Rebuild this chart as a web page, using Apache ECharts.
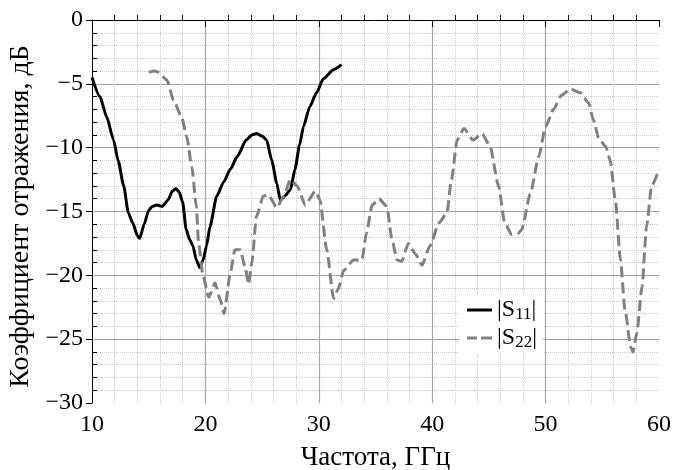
<!DOCTYPE html>
<html>
<head>
<meta charset="utf-8">
<script src="https://cdn.jsdelivr.net/npm/echarts@6/dist/echarts.min.js"></script>
<style>
  html, body { margin: 0; padding: 0; background: #fff; }
  #chart { width: 687px; height: 470px; }
</style>
</head>
<body>
<div id="chart"></div>
<script>
// |S11|, ГГц / дБ
const s11Freq = [10.0, 10.7, 11.3, 11.9, 12.3, 12.8, 13.2, 13.6, 14.0, 14.2, 14.6, 15.0, 15.3, 15.7, 16.2, 16.7, 17.1, 17.4, 17.7, 18.0, 18.3, 18.6, 18.9, 19.2, 19.5, 19.8, 20.1, 20.4, 21.0, 21.6, 22.2, 22.8, 23.6, 24.1, 24.5, 25.0, 25.4, 25.85, 26.3, 26.6, 27.0, 27.5, 27.9, 28.3, 28.65, 29.2, 29.8, 30.4, 31.3, 32.0]
const s11Db = [-4.5, -6.0, -7.6, -9.4, -11.0, -13.0, -15.1, -15.9, -16.9, -17.1, -16.0, -14.9, -14.6, -14.5, -14.6, -14.1, -13.4, -13.2, -13.5, -14.3, -16.4, -17.2, -17.7, -18.8, -19.4, -18.8, -17.7, -16.2, -13.8, -12.7, -11.7, -10.7, -9.4, -9.0, -8.9, -9.1, -9.4, -11.0, -12.8, -14.1, -13.8, -13.3, -11.7, -9.8, -8.35, -6.8, -5.7, -4.6, -3.9, -3.5]

// |S22|
const s22Freq = [15.0, 15.5, 15.9, 16.6, 17.2, 17.9, 18.35, 18.8, 19.2, 19.4, 19.8, 20.3, 20.85, 21.3, 21.65, 22.2, 22.6, 23.06, 23.5, 23.8, 24.1, 24.5, 25.1, 25.56, 26.3, 26.9, 27.5, 28.1, 28.8, 29.7, 30.1, 30.7, 31.3, 31.7, 32.2, 33.06, 33.8, 34.2, 34.7, 35.3, 36.0, 36.45, 36.9, 37.3, 37.9, 38.5, 39.1, 39.8, 40.6, 41.3, 41.7, 42.2, 42.8, 43.6, 44.4, 45.1, 45.85, 46.4, 47.0, 47.6, 47.9, 48.65, 49.4, 50.0, 50.7, 51.4, 52.2, 53.06, 53.8, 54.2, 54.7, 55.3, 55.7, 56.15, 56.6, 57.0, 57.5, 57.7, 58.05, 58.5, 58.9, 59.35, 60.0]
const s22Db = [-4.1, -4.0, -4.1, -4.7, -6.3, -7.6, -9.1, -11.5, -14.6, -17.5, -20.1, -21.7, -20.6, -21.9, -23.0, -19.8, -18.0, -18.0, -19.3, -20.7, -19.0, -15.4, -13.8, -13.7, -14.7, -13.8, -12.5, -13.0, -14.5, -13.4, -14.1, -18.0, -21.8, -21.1, -19.6, -18.8, -18.8, -16.7, -14.5, -14.0, -14.6, -17.2, -18.8, -18.9, -17.5, -18.3, -19.2, -17.7, -15.9, -15.1, -12.5, -9.4, -8.5, -9.4, -8.9, -9.9, -13.0, -15.9, -16.8, -16.7, -16.4, -13.6, -10.7, -8.35, -7.0, -5.9, -5.4, -5.7, -6.5, -7.8, -9.3, -9.9, -11.0, -14.1, -18.8, -22.7, -25.6, -26.0, -24.5, -20.9, -16.2, -13.0, -11.7]

const xMin = 10
const xMax = 60
const xStep = 10
const yMin = -30
const yMax = 0
const yStep = 5

const serif = '"Liberation Serif", "Times New Roman", serif'

function zip (xs, ys) {
  return xs.map((x, i) => [x, ys[i]])
}

// длинный минус как в оригинале
function minusFmt (v) {
  return v < 0 ? '\u2212' + (-v) : String(v)
}

const chart = echarts.init(document.getElementById('chart'))

const baseX = {
  type: 'value',
  min: xMin,
  max: xMax,
  interval: xStep,
  position: 'bottom'
}
const baseY = {
  type: 'value',
  min: yMin,
  max: yMax,
  interval: yStep,
  position: 'left'
}

const option = {
  animation: false,
  backgroundColor: '#fff',
  textStyle: { fontFamily: serif, color: '#000' },
  grid: { left: 92, right: 28, top: 20, bottom: 67, containLabel: false, outerBoundsMode: 'none' },
  legend: {
    orient: 'vertical',
    left: 459,
    top: 295,
    backgroundColor: '#fff',
    padding: [2, 6, 2, 8],
    itemWidth: 25,
    itemHeight: 3,
    itemGap: 2,
    selectedMode: false,
    data: [
      { name: 'S11', icon: 'path://M0,0H25V3H0Z', itemStyle: { color: '#000' } },
      { name: 'S22', icon: 'path://M0,0H10V3H0Z M14,0H25V3H14Z', itemStyle: { color: '#808080' } }
    ],
    formatter (name) {
      return '{n||S}{s|' + name.slice(1) + '}{n||}'
    },
    textStyle: {
      fontFamily: serif,
      color: '#000',
      rich: {
        n: { fontSize: 24, fontFamily: serif, lineHeight: 28 },
        s: { fontSize: 17, fontFamily: serif, lineHeight: 28, padding: [9, 0, 0, 0] }
      }
    }
  },
  xAxis: [
    Object.assign({}, baseX, {
      name: 'Частота, ГГц',
      nameLocation: 'middle',
      nameGap: 41,
      nameTextStyle: { fontSize: 27, fontFamily: serif, color: '#000' },
      axisLine: { show: true, lineStyle: { color: '#000', width: 1 } },
      axisTick: { show: true, inside: false, length: 7, lineStyle: { color: '#000' } },
      axisLabel: { fontSize: 24, fontFamily: serif, color: '#000', margin: 10 },
      splitLine: { show: true, showMinLine: false, showMaxLine: false, lineStyle: { color: '#a6a6a6', width: 1.2 } },
      minorTick: { show: false },
      minorSplitLine: { show: true, lineStyle: { color: '#c8c8c8', type: 'dotted', width: 1 } }
    }),
    // малые деления внутрь
    Object.assign({}, baseX, {
      axisLine: { show: false },
      axisLabel: { show: false },
      axisTick: { show: false, inside: true },
      splitLine: { show: false },
      minorTick: { show: true, splitNumber: 5, length: 5, lineStyle: { color: '#000' } }
    })
  ],
  yAxis: [
    Object.assign({}, baseY, {
      name: 'Коэффициент отражения, дБ',
      nameLocation: 'middle',
      nameGap: 52,
      nameTextStyle: { fontSize: 28, fontFamily: serif, color: '#000', padding: [0, 10, 0, 0] },
      axisLine: { show: true, lineStyle: { color: '#000', width: 1 } },
      axisTick: { show: true, inside: false, length: 6, lineStyle: { color: '#000' } },
      axisLabel: { fontSize: 24, fontFamily: serif, color: '#000', margin: 9, formatter: minusFmt },
      splitLine: { show: true, showMinLine: false, showMaxLine: false, lineStyle: { color: '#a6a6a6', width: 1.2 } },
      minorTick: { show: false },
      minorSplitLine: { show: true, lineStyle: { color: '#c8c8c8', type: 'dotted', width: 1 } }
    }),
    Object.assign({}, baseY, {
      axisLine: { show: false },
      axisLabel: { show: false },
      axisTick: { show: false, inside: true },
      splitLine: { show: false },
      minorTick: { show: true, splitNumber: 5, length: 5, lineStyle: { color: '#000' } }
    })
  ],
  series: [
    {
      name: 'S11',
      type: 'line',
      xAxisIndex: 0,
      yAxisIndex: 0,
      data: zip(s11Freq, s11Db),
      smooth: 0.2,
      smoothMonotone: 'x',
      symbol: 'none',
      lineStyle: { color: '#000', width: 3 },
      itemStyle: { color: '#000' }
    },
    {
      name: 'S22',
      type: 'line',
      xAxisIndex: 0,
      yAxisIndex: 0,
      data: zip(s22Freq, s22Db),
      smooth: 0.2,
      smoothMonotone: 'x',
      symbol: 'none',
      lineStyle: { color: '#808080', width: 3, type: [11, 5] },
      itemStyle: { color: '#808080' }
    }
  ]
}

chart.setOption(option)
</script>
</body>
</html>
